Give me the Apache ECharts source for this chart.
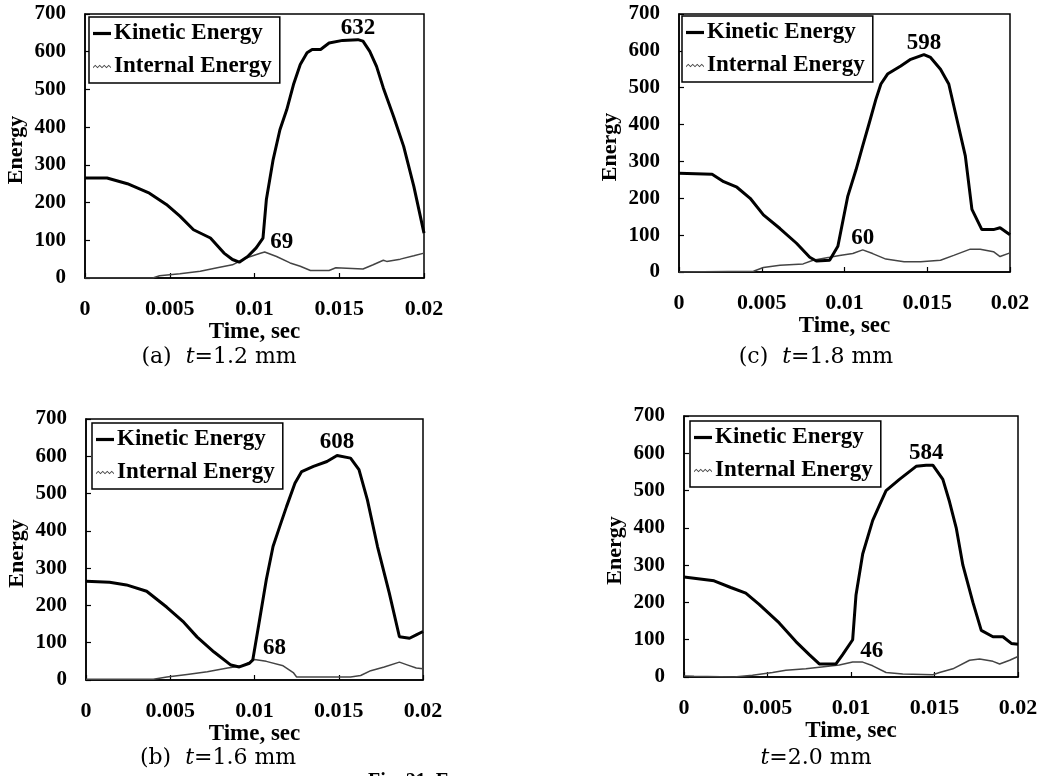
<!DOCTYPE html>
<html><head><meta charset="utf-8">
<script src="https://cdn.jsdelivr.net/npm/echarts@6/dist/echarts.min.js"></script>
<style>html,body{margin:0;padding:0;background:#fff}#c{width:1043px;height:776px}</style>
</head><body><div id="c"></div>
<script>
// Panel (a) t=1.2 mm
var tA_ke=[0,0.0013,0.0025,0.0038,0.0048,0.0056,0.0064,0.0074,0.0082,0.0087,0.0091,0.0096,0.0101,0.0105,0.0107,0.0111,0.0115,0.0119,0.0123,0.0127,0.0131,0.0134,0.0139,0.0144,0.0152,0.0161,0.0164,0.0168,0.0172,0.0176,0.0182,0.0188,0.0194,0.02];
var vA_ke=[265,265,250,225,195,164,128,106,66,49,42,57,80,106,208,314,393,446,513,566,597,606,606,623,630,632,628,601,561,504,429,349,243,119];
var tA_ie=[0,0.004,0.0044,0.0056,0.0068,0.0078,0.0087,0.0095,0.0103,0.0106,0.0113,0.0121,0.0127,0.0133,0.0144,0.0148,0.0164,0.017,0.0176,0.0178,0.0186,0.0194,0.02];
var vA_ie=[0,0,6,11,18,27,35,53,65,69,57,40,31,20,20,27,24,35,47,44,50,59,66];
// Panel (c) t=1.8 mm
var tC_ke=[0,0.002,0.0027,0.0035,0.0043,0.0051,0.0061,0.0071,0.0079,0.0083,0.0091,0.0096,0.0102,0.0107,0.0111,0.0115,0.0119,0.0122,0.0126,0.0134,0.014,0.0148,0.0152,0.0158,0.0163,0.0167,0.0173,0.0177,0.0183,0.019,0.0194,0.02];
var vC_ke=[268,265,245,230,200,155,118,78,40,30,32,70,206,278,342,405,469,510,537,559,577,590,582,550,510,432,315,170,115,115,120,101];
var tC_ie=[0,0.0045,0.0051,0.0061,0.0075,0.0081,0.0091,0.0097,0.0105,0.0111,0.0117,0.0125,0.0136,0.0146,0.0158,0.0166,0.0176,0.0182,0.019,0.0194,0.02];
var vC_ie=[0,2,12,18,22,32,40,45,50,60,50,35,28,28,32,45,62,62,55,42,52];
// Panel (b) t=1.6 mm
var tB_ke=[0,0.0014,0.0024,0.0036,0.0048,0.0058,0.0066,0.0076,0.0086,0.0091,0.0097,0.0099,0.0103,0.0107,0.0111,0.0115,0.0119,0.0124,0.0128,0.0135,0.0143,0.0149,0.0157,0.0162,0.0167,0.0173,0.018,0.0186,0.0192,0.0196,0.02];
var vB_ke=[265,262,255,238,195,155,115,75,40,35,45,54,161,269,358,412,465,528,559,573,586,602,595,564,483,358,233,116,112,121,130];
var tB_ie=[0,0.004,0.0048,0.006,0.0072,0.0084,0.0093,0.01,0.0107,0.0117,0.0123,0.0125,0.0137,0.0157,0.0163,0.0169,0.0177,0.0186,0.0191,0.0196,0.02];
var vB_ie=[2,2,8,15,22,32,38,55,50,38,20,8,8,8,12,25,35,48,40,32,30];
// Panel (d) t=2.0 mm
var tD_ke=[0,0.0006,0.0018,0.0028,0.0037,0.0045,0.0057,0.0067,0.0075,0.0081,0.0091,0.0095,0.0101,0.0103,0.0107,0.0113,0.0117,0.0121,0.0129,0.0139,0.0145,0.0149,0.0155,0.0159,0.0163,0.0167,0.0173,0.0178,0.0185,0.0191,0.0196,0.02];
var vD_ke=[268,265,258,240,225,195,145,95,60,35,35,60,100,220,330,420,460,500,530,565,568,568,530,470,400,300,200,125,108,108,90,88];
var tD_ie=[0,0.0006,0.003,0.0041,0.0053,0.0061,0.0073,0.0085,0.0093,0.0101,0.0107,0.0113,0.0121,0.0131,0.0149,0.0153,0.0161,0.0171,0.0177,0.0185,0.0189,0.0195,0.02];
var vD_ie=[3,2,0,5,12,18,22,28,32,40,40,30,12,8,6,12,22,45,48,42,35,45,55];

// peak annotations: text and the time of the point they mark
var keLabelText=['632','608','598','584'];
var keLabelT=[0.0161,0.0149,0.0148,0.0145];
var ieLabelText=['69','68','60','46'];
var ieLabelT=[0.0106,0.01,0.0111,0.0107];
var captions=[['(a)','1.2 mm'],['(b)','1.6 mm'],['(c)','1.8 mm'],['','2.0 mm']];
var xTicks=[0,0.005,0.01,0.015,0.02];
var seriesNames=['Kinetic Energy','Internal Energy'];

var panels=[
 {t1:tA_ke,v1:vA_ke,t2:tA_ie,v2:vA_ie,grid:{left:85,top:14,width:339,height:264},leg:{left:89,top:17},ieOff:[17,2],keDist:0,xGap:39,cap:[219,357]},
 {t1:tB_ke,v1:vB_ke,t2:tB_ie,v2:vB_ie,grid:{left:86,top:419,width:337,height:261},leg:{left:92,top:423},ieOff:[20,0],keDist:2,xGap:37,cap:[218,758]},
 {t1:tC_ke,v1:vC_ke,t2:tC_ie,v2:vC_ie,grid:{left:679,top:14,width:331,height:258},leg:{left:682,top:16},ieOff:[0,0],keDist:0,xGap:35,cap:[816,357]},
 {t1:tD_ke,v1:vD_ke,t2:tD_ie,v2:vD_ie,grid:{left:684,top:416,width:334,height:261},leg:{left:690,top:421},ieOff:[9,0],keDist:1,xGap:36,cap:[816,758]}
];

var serif='"Liberation Serif","Times New Roman",serif';
var lblStyle={fontFamily:serif,fontWeight:'bold',fontSize:23,color:'#000'};
var iconThick='path://M0,0H18V3.2H0Z';
var iconWavy='path://M0,2L2,0L4,2L6,0L8,2L10,0L12,2L14,0L16,2L16,3.2L14,1.2L12,3.2L10,1.2L8,3.2L6,1.2L4,3.2L2,1.2L0,3.2Z';

function idxOf(ts,t){var b=0;for(var i=0;i<ts.length;i++){if(Math.abs(ts[i]-t)<Math.abs(ts[b]-t))b=i;}return b;}

var grids=[],xAxes=[],yAxes=[],series=[],legends=[],graphics=[];
panels.forEach(function(p,k){
  grids.push(Object.assign({show:true,borderColor:'#000',borderWidth:1.5,backgroundColor:'transparent'},p.grid));
  xAxes.push({type:'value',gridIndex:k,min:0,max:0.02,interval:0.005,
    name:'Time, sec',nameLocation:'middle',nameGap:p.xGap,
    nameTextStyle:{fontFamily:serif,fontWeight:'bold',fontSize:23,color:'#000'},
    axisLine:{lineStyle:{color:'#000',width:1.5}},
    axisTick:{inside:true,length:5,lineStyle:{color:'#000',width:1.2}},
    axisLabel:{margin:20,fontFamily:serif,fontWeight:'bold',fontSize:22,color:'#000',
      formatter:function(v){for(var i=0;i<xTicks.length;i++){if(Math.abs(v-xTicks[i])<1e-9)return String(xTicks[i]);}return '';}},
    splitLine:{show:false}});
  yAxes.push({type:'value',gridIndex:k,min:0,max:700,interval:100,
    name:'Energy',nameLocation:'middle',nameGap:58,nameRotate:90,
    nameTextStyle:{fontFamily:serif,fontWeight:'bold',fontSize:22,color:'#000',padding:[0,8,0,0]},
    axisLine:{show:true,lineStyle:{color:'#000',width:1.5}},
    axisTick:{show:true,inside:true,length:5,lineStyle:{color:'#000',width:1.2}},
    axisLabel:{margin:19,fontFamily:serif,fontWeight:'bold',fontSize:21,color:'#000'},
    splitLine:{show:false}});
  var mk=idxOf(p.t1,keLabelT[k]), mi=idxOf(p.t2,ieLabelT[k]);
  var d1=p.t1.map(function(t,i){return [t,p.v1[i]];});
  var d2=p.t2.map(function(t,i){return [t,p.v2[i]];});
  series.push({name:seriesNames[0],type:'line',xAxisIndex:k,yAxisIndex:k,data:d1,
    symbol:'none',itemStyle:{color:'#000'},lineStyle:{color:'#000',width:3},z:3,animation:false,
    markPoint:{symbol:'circle',symbolSize:0,silent:true,animation:false,
      label:Object.assign({show:true,position:'top',distance:p.keDist},lblStyle),
      data:[{coord:[p.t1[mk],p.v1[mk]],label:{formatter:keLabelText[k]}}]}});
  series.push({name:seriesNames[1],type:'line',xAxisIndex:k,yAxisIndex:k,data:d2,
    symbol:'none',itemStyle:{color:'#444'},lineStyle:{color:'#444',width:1.5},z:2,animation:false,
    markPoint:{symbol:'circle',symbolSize:0,silent:true,animation:false,
      label:Object.assign({show:true,position:'top',distance:0,offset:p.ieOff},lblStyle),
      data:[{coord:[p.t2[mi],p.v2[mi]],label:{formatter:ieLabelText[k]}}]}});
  legends.push({orient:'vertical',left:p.leg.left,top:p.leg.top,
    data:[{name:seriesNames[0],icon:iconThick},{name:seriesNames[1],icon:iconWavy}],
    selectedMode:false,symbolKeepAspect:true,
    itemWidth:18,itemHeight:14,itemGap:10,padding:[5,8,5,4],
    borderColor:'#000',borderWidth:1.5,backgroundColor:'#fff',
    textStyle:{fontFamily:serif,fontWeight:'bold',fontSize:23,color:'#000',lineHeight:23,padding:[0,0,0,-2]}});
  var c=captions[k];
  graphics.push({type:'text',x:p.cap[0],y:p.cap[1],style:{
    text:(c[0]?'{n|'+c[0]+'  }':'')+'{i|t}{n|=' + c[1] + '}',
    align:'center',verticalAlign:'middle',
    rich:{n:{fontFamily:'"DejaVu Serif",serif',fontSize:22,fill:'#000'},
          i:{fontFamily:'"DejaVu Serif",serif',fontStyle:'italic',fontSize:22,fill:'#000'}}}});
});
graphics.push({type:'text',left:368,top:772,style:{text:'Fig. 21  Energy',fontFamily:serif,fontWeight:'bold',fontSize:20,fill:'#000'}});

var chart=echarts.init(document.getElementById('c'),null,{renderer:'canvas'});
chart.setOption({animation:false,backgroundColor:'#fff',grid:grids,xAxis:xAxes,yAxis:yAxes,series:series,legend:legends,graphic:graphics});
</script></body></html>
